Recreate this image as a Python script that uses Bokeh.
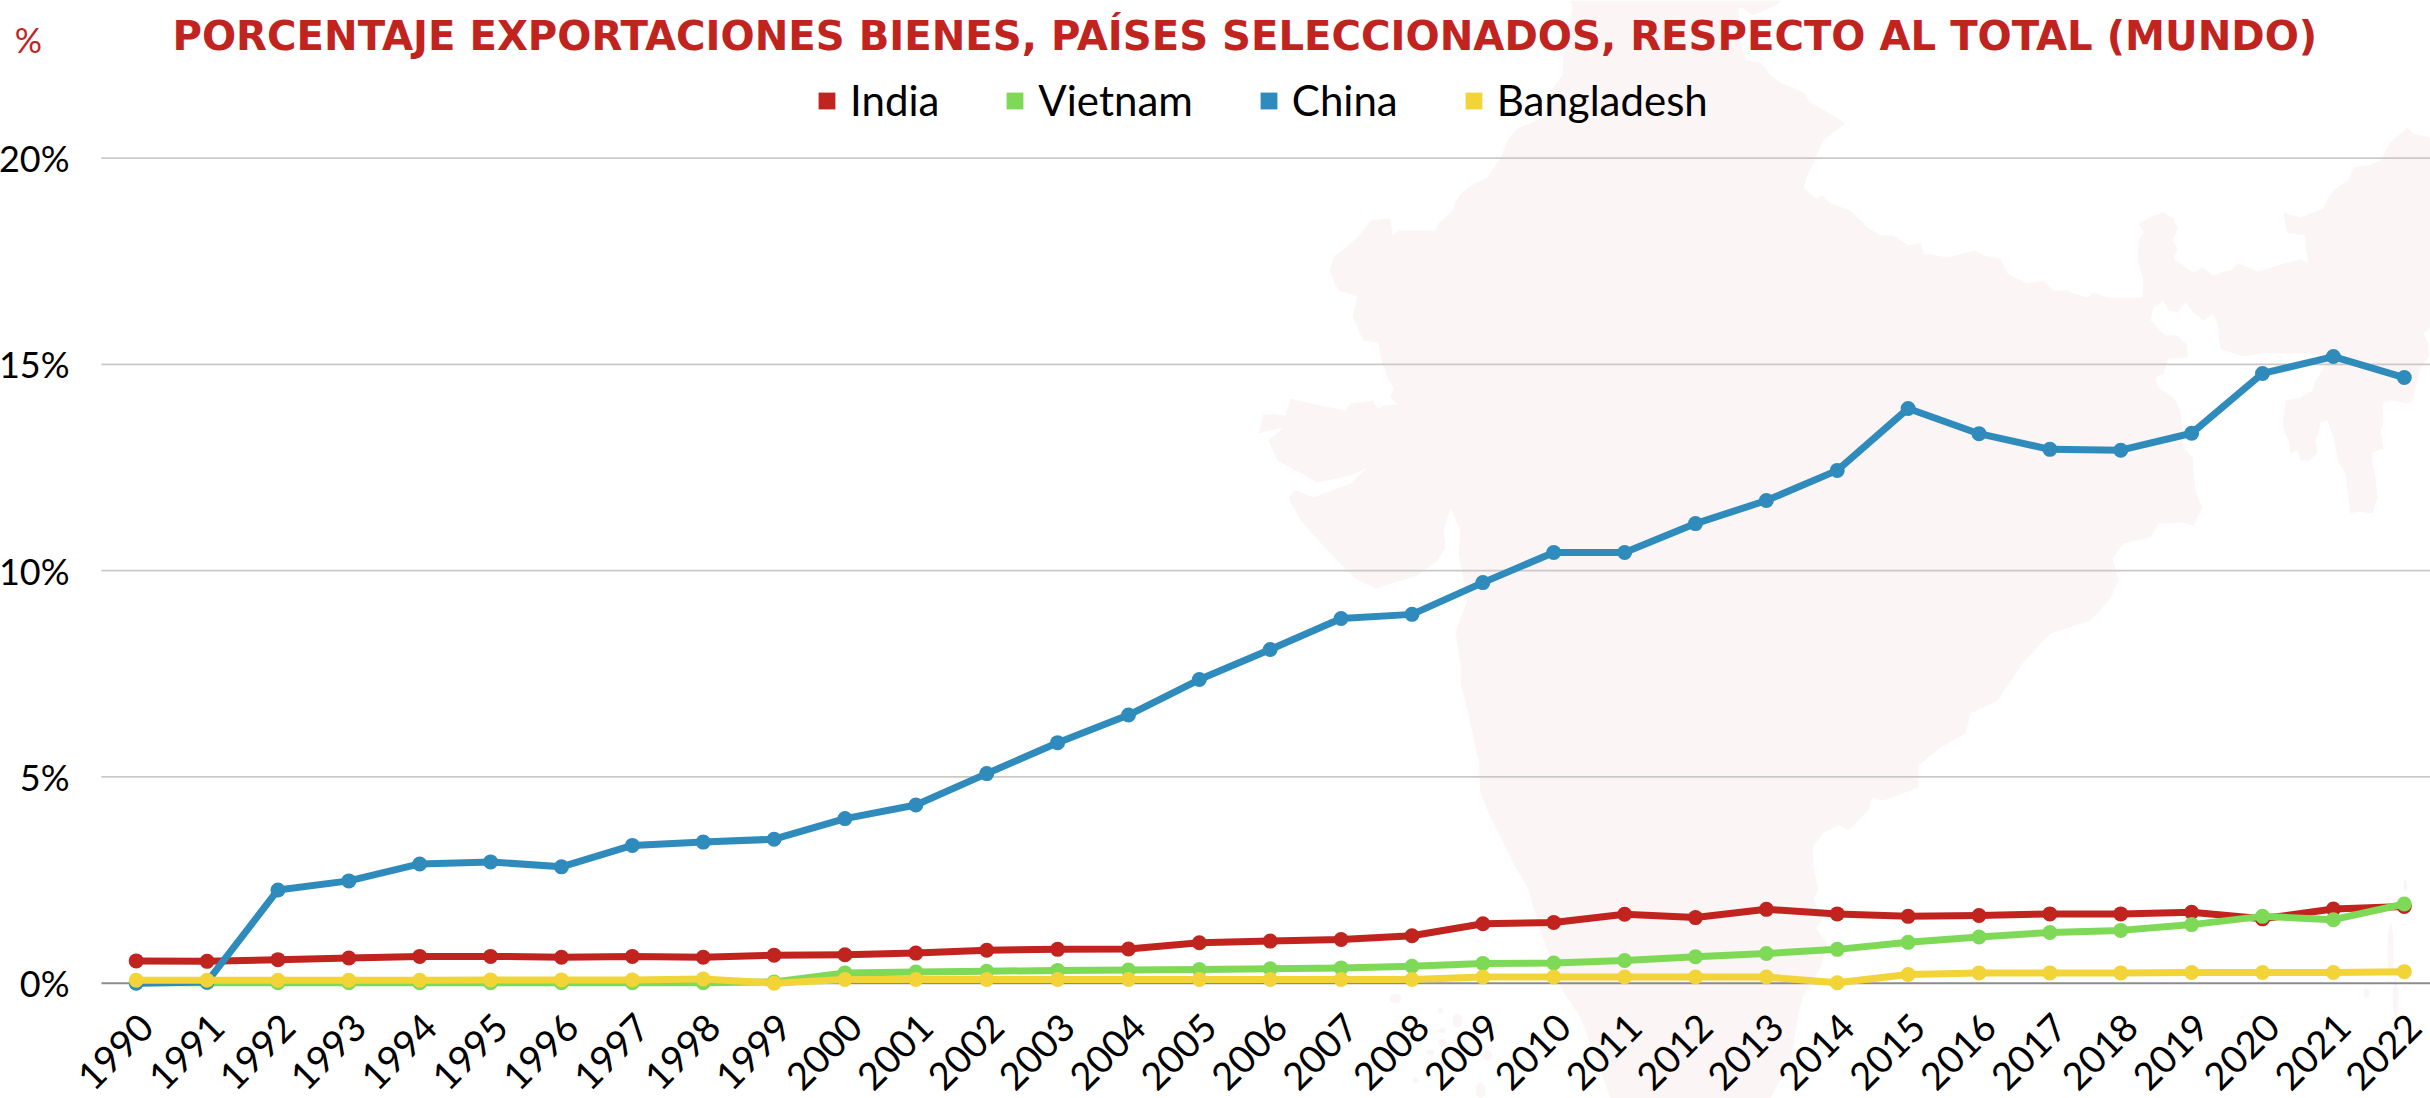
from bokeh.plotting import figure
from bokeh.embed import file_html
from bokeh.resources import INLINE
from bokeh.models import (Range1d, FixedTicker, Legend, LegendItem, Label, LabelSet,
                          PolyAnnotation, ColumnDataSource)
from bokeh.core.properties import value
import math

years = list(range(1990, 2023))
india = [0.54,0.53,0.57,0.61,0.65,0.65,0.63,0.65,0.63,0.68,0.69,0.73,0.80,0.82,0.83,0.98,1.02,
         1.06,1.15,1.44,1.47,1.67,1.59,1.79,1.68,1.62,1.64,1.68,1.68,1.72,1.56,1.80,1.86]
vietnam = [0.01,0.01,0.01,0.01,0.01,0.01,0.01,0.01,0.01,0.03,0.25,0.27,0.29,0.31,0.32,0.33,0.35,
           0.37,0.41,0.48,0.49,0.55,0.64,0.72,0.82,0.99,1.12,1.23,1.28,1.42,1.62,1.54,1.92]
china = [0.0,0.03,2.26,2.48,2.89,2.94,2.82,3.34,3.42,3.49,3.99,4.32,5.08,5.83,6.5,7.36,8.09,
         8.84,8.94,9.71,10.44,10.44,11.14,11.70,12.43,13.93,13.32,12.94,12.92,13.33,14.78,15.19,14.68]
bangladesh = [0.07,0.07,0.07,0.07,0.07,0.08,0.08,0.08,0.10,0.0,0.09,0.09,0.09,0.09,0.09,0.09,0.09,
              0.09,0.09,0.15,0.15,0.15,0.15,0.15,0.01,0.21,0.25,0.25,0.25,0.26,0.26,0.26,0.28]
series_names = ["India", "Vietnam", "China", "Bangladesh"]
y_ticks = [0, 5, 10, 15, 20]
y_tick_labels = ["0%", "5%", "10%", "15%", "20%"]
title_text = "PORCENTAJE EXPORTACIONES BIENES, PAÍSES SELECCIONADOS, RESPECTO AL TOTAL (MUNDO)"
unit_text = "%"

# Decorative backdrop: outline of India, in page pixels
map_outline = [(1570,0),(1781,0),(1775,5),(1752,15),(1742,7),(1738,8),(1740,40),(1745,60),(1760,62),(1770,75),
 (1780,82),(1803,92),(1810,102),(1833,115),(1845,123),(1833,132),(1823,140),(1815,157),(1808,173),(1803,187),
 (1815,198),(1822,195),(1830,203),(1850,210),(1867,227),(1880,235),(1893,235),(1908,245),(1920,243),(1923,253),
 (1947,257),(1975,250),(1983,255),(2000,258),(2007,273),(2027,283),(2043,280),(2053,290),(2067,290),(2073,293),
 (2087,297),(2093,292),(2107,297),(2130,297),(2142,297),(2143,280),(2137,260),(2138,240),(2143,232),(2138,223),
 (2153,215),(2163,212),(2173,218),(2177,228),(2172,240),(2177,248),(2173,258),(2187,268),(2193,272),(2202,267),
 (2213,275),(2220,272),(2230,270),(2238,263),(2258,271),(2277,265),(2300,259),(2308,262),(2305,247),(2305,235),
 (2287,233),(2283,212),(2300,217),(2323,208),(2327,198),(2335,188),(2348,180),(2353,167),(2367,165),(2380,160),
 (2390,142),(2407,127),(2413,133),(2430,137),(2430,327),(2423,333),(2428,343),(2428,357),(2420,367),(2415,387),
 (2412,402),(2407,403),(2390,400),(2382,403),(2383,423),(2380,430),(2383,448),(2372,452),(2372,463),(2375,477),
 (2377,497),(2372,513),(2357,511),(2350,513),(2347,490),(2345,473),(2338,462),(2333,437),(2327,420),(2320,422),
 (2318,433),(2315,440),(2317,453),(2308,460),(2300,460),(2297,450),(2290,453),(2288,440),(2282,427),(2285,400),
 (2300,397),(2312,390),(2315,380),(2322,370),(2327,357),(2307,353),(2260,353),(2243,356),(2230,352),(2220,348),
 (2218,333),(2217,323),(2212,313),(2203,320),(2193,312),(2185,302),(2180,307),(2177,312),(2168,310),(2163,300),
 (2153,308),(2150,320),(2165,335),(2177,335),(2187,345),(2187,357),(2168,358),(2163,373),(2155,377),(2157,387),
 (2173,397),(2180,410),(2183,447),(2192,457),(2193,473),(2195,490),(2202,507),(2193,525),(2183,522),(2158,523),
 (2150,537),(2123,543),(2112,558),(2118,580),(2110,598),(2090,620),(2050,633),(2022,663),(1997,700),(1970,713),
 (1965,733),(1940,747),(1918,765),(1918,787),(1883,800),(1872,797),(1868,810),(1848,830),(1838,825),(1823,832),
 (1812,847),(1813,867),(1818,890),(1813,897),(1822,920),(1815,927),(1827,943),(1820,967),(1802,997),(1797,1020),
 (1790,1060),(1770,1098),(1610,1098),(1600,1070),(1580,1017),(1560,987),(1540,930),(1527,887),(1513,863),(1490,817),
 (1480,793),(1478,760),(1467,710),(1460,683),(1460,667),(1455,630),(1467,600),(1458,553),(1460,530),(1450,508),
 (1443,530),(1445,547),(1437,560),(1417,575),(1375,588),(1353,577),(1327,550),(1300,520),(1288,497),(1295,490),
 (1313,497),(1350,483),(1367,467),(1350,475),(1317,482),(1277,460),(1268,440),(1283,427),(1258,433),(1263,413),
 (1285,415),(1290,398),(1310,403),(1330,407),(1345,410),(1350,403),(1373,400),(1377,408),(1385,405),(1397,404),
 (1390,397),(1393,388),(1387,377),(1380,357),(1378,342),(1363,340),(1352,317),(1357,296),(1338,290),(1329,270),
 (1333,257),(1357,237),(1370,220),(1390,218),(1392,236),(1398,230),(1435,230),(1438,223),(1453,210),(1455,200),
 (1467,187),(1487,177),(1500,157),(1507,140),(1517,128),(1543,117),(1550,90),(1562,75),(1563,57),(1572,7)]
# small islands: centre x, centre y, half width, half height
map_islands = [(1395,998,6,5),(1440,1010,3,3),(1457,1020,5,7),(1442,1030,4,3),(1442,1042,4,4),(1430,1052,4,3),
               (1487,1055,5,5),(1415,1080,3,3),(1480,1090,5,8),(2390,950,3,28),(2395,1000,3,18),(2366,993,3,5),
               (2405,885,2,6),(2395,975,2,8)]

RED, GREEN, BLUE, YELLOW = "#C1231F", "#7ED957", "#2E8BBC", "#F2D338"
MAP_FILL = "#FBF5F5"
TICK_FONT = "Lato"
NAN = float("nan")
X_START, X_END = 1989.073, 2022.37
GRID_START = 1989.51

W, H = 2430, 1098
p = figure(width=W, height=H, output_backend="svg", toolbar_location=None,
           x_range=Range1d(X_START, X_END), y_range=Range1d(-2.795, 23.82),
           min_border_left=70, min_border_right=0, min_border_top=0, min_border_bottom=0)
p.outline_line_color = None
p.xgrid.visible = False
p.ygrid.visible = False

p.xaxis.visible = False
p.yaxis.ticker = FixedTicker(ticks=y_ticks)
p.yaxis.major_label_overrides = dict(zip(y_ticks, y_tick_labels))
p.yaxis.major_label_standoff = 1
p.yaxis.axis_line_color = None
p.yaxis.major_tick_line_color = None
p.yaxis.minor_tick_line_color = None
p.yaxis.major_tick_out = 0
p.yaxis.major_tick_in = 0
p.yaxis.minor_tick_out = 0
p.yaxis.minor_tick_in = 0
p.yaxis.major_label_text_font = TICK_FONT
p.yaxis.major_label_text_font_size = "36px"
p.yaxis.major_label_text_color = "#000000"
p.yaxis.axis_label = "\n\n" + unit_text
p.yaxis.axis_label_orientation = "horizontal"
p.yaxis.axis_label_align = "end"
p.yaxis.axis_label_standoff = -46
p.yaxis.axis_label_text_font = TICK_FONT
p.yaxis.axis_label_text_font_style = "normal"
p.yaxis.axis_label_text_font_size = "34px"
p.yaxis.axis_label_text_line_height = 0.95
p.yaxis.axis_label_text_color = RED

p.add_layout(PolyAnnotation(xs=[x for x, _ in map_outline], ys=[y for _, y in map_outline],
                            xs_units="canvas", ys_units="canvas", fill_color=MAP_FILL, fill_alpha=1.0,
                            line_color=None, level="image"))
for cx, cy, rx, ry in map_islands:
    angles = [i * math.pi / 5 for i in range(10)]
    p.add_layout(PolyAnnotation(xs=[cx + rx * math.cos(a) for a in angles], ys=[cy + ry * math.sin(a) for a in angles],
                                xs_units="canvas", ys_units="canvas", fill_color=MAP_FILL,
                                fill_alpha=1.0, line_color=None, level="image"))

# Horizontal rules start right of the frame's edge, so that rotated year labels can overhang them
p.segment(x0=[GRID_START] * len(y_ticks), x1=[X_END] * len(y_ticks), y0=y_ticks, y1=y_ticks,
          line_color=["#8c8c8c" if t == 0 else "#cbc8c8" for t in y_ticks],
          line_width=[2 if t == 0 else 1.6 for t in y_ticks], level="underlay")

items = []
for name, vals, col in zip(series_names, [india, vietnam, china, bangladesh], [RED, GREEN, BLUE, YELLOW]):
    p.line(years, vals, line_color=col, line_width=7, line_join="round")
    p.scatter(years, vals, marker="circle", size=15, fill_color=col, line_color=None)
    swatch = p.quad(left=[NAN], right=[NAN], top=[NAN], bottom=[NAN], fill_color=col, line_color=None)
    items.append(LegendItem(label=name, renderers=[swatch], index=0))

legend = Legend(items=items, orientation="horizontal", location=(746, 973), glyph_width=21, glyph_height=21,
                label_standoff=13, spacing=65, padding=0, margin=0, border_line_color=None,
                background_fill_alpha=0, label_text_font=TICK_FONT, label_text_font_size="42px",
                label_text_color="#000000")
p.add_layout(legend)

tick_src = ColumnDataSource(dict(x=years, y=[0] * len(years), t=[str(y) for y in years]))
p.add_layout(LabelSet(x="x", y="y", text="t", source=tick_src, angle=math.pi / 4, angle_units="rad",
                      x_offset=10, y_offset=-37, text_align="right", text_baseline="middle",
                      text_font=value(TICK_FONT), text_font_size="38px", text_color="#000000"))

p.add_layout(Label(x=172, y=35, x_units="canvas", y_units="canvas", text=title_text, text_color=RED,
                   text_font="DejaVu Sans", text_font_style="bold", text_font_size="40.2px",
                   text_baseline="alphabetic", text_align="left"))

open("out.html", "w").write(file_html(p, INLINE))
